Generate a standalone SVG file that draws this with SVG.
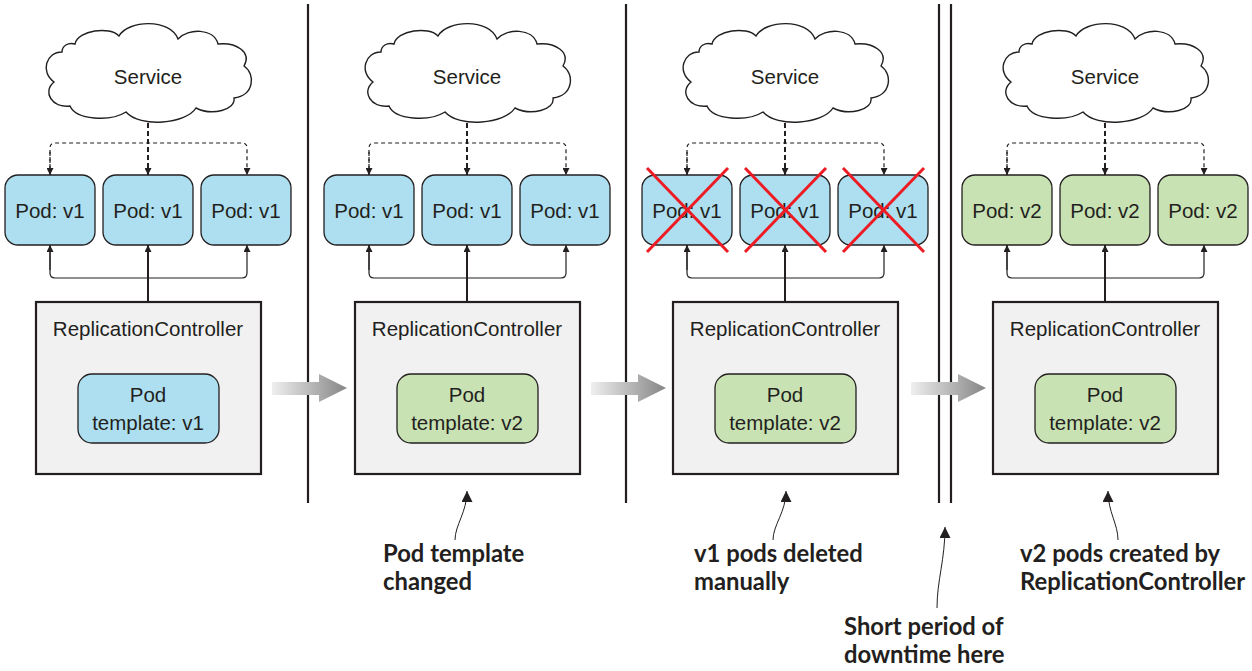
<svg xmlns="http://www.w3.org/2000/svg" width="1252" height="671" viewBox="0 0 1252 671">
<defs>
<style>
.lbl{font-family:"Liberation Sans",Arial,sans-serif;font-size:20.5px;fill:#231f20;text-anchor:middle}
.note{font-family:Lato,"Liberation Sans",sans-serif;font-weight:700;font-size:23.8px;fill:#231f20}
.cloud{fill:#fff;stroke:#231f20;stroke-width:1.4}
.pod1{fill:#aedff0;stroke:#231f20;stroke-width:1.3}
.pod2{fill:#c9e2b3;stroke:#231f20;stroke-width:1.3}
.rc{fill:#f1f1f1;stroke:#231f20;stroke-width:2.2}
.dash{fill:none;stroke:#231f20;stroke-width:1.2;stroke-dasharray:4 3}
.dashc{fill:none;stroke:#231f20;stroke-width:2;stroke-dasharray:5 3}
.sol{fill:none;stroke:#231f20;stroke-width:1.2}
.solc{fill:none;stroke:#231f20;stroke-width:2}
.div{stroke:#231f20;stroke-width:2.2}
.xr{stroke:#ed1c24;stroke-width:3;stroke-linecap:butt}
.ann{fill:none;stroke:#231f20;stroke-width:1}
.big{fill:url(#g)}
</style>
<linearGradient id="g" x1="0" y1="0" x2="1" y2="0">
<stop offset="0" stop-color="#efefef"/>
<stop offset="1" stop-color="#858585"/>
</linearGradient>
<marker id="ah" viewBox="0 0 10 10" refX="10" refY="5" markerWidth="8" markerHeight="7" markerUnits="userSpaceOnUse" orient="auto">
<path d="M0,0 L10,5 L0,10 Z" fill="#231f20"/>
</marker>
<marker id="ahb" viewBox="0 0 10 10" refX="10" refY="5" markerWidth="11" markerHeight="11" markerUnits="userSpaceOnUse" orient="auto">
<path d="M0,0 L10,5 L0,10 Z" fill="#231f20"/>
</marker>
<path id="cloudp" d="M75,44 C78,30 110,26 119,36 C128,20 170,18 178,39 C188,28 214,28 218,44 C236,42 252,52 244,66 C256,74 254,96 234,98 C236,110 212,116 196,108 C186,124 140,128 126,112 C110,122 76,120 70,106 C52,108 42,92 54,82 C40,72 46,52 62,52 C62,46 68,42 75,44 Z"/>
</defs>
<rect width="1252" height="671" fill="#fff"/>

<g id="dividers">
<line class="div" x1="308" y1="4" x2="308" y2="503"/>
<line class="div" x1="626" y1="4" x2="626" y2="503"/>
<line class="div" x1="939" y1="4" x2="939" y2="503"/>
<line class="div" x1="951" y1="4" x2="951" y2="503"/>
</g>

<g id="connectors">
<g>
<path class="dash" d="M50,175 V148 Q50,143 55,143 H242 Q247,143 247,148 V175" marker-end="url(#ah)"/>
<path class="dash" d="M50,152 V175" marker-end="url(#ah)"/>
<path class="dashc" d="M148,123 V175" marker-end="url(#ah)"/>
<path class="solc" d="M148,302 V245" marker-end="url(#ah)"/>
<path class="sol" d="M50,245 V273 Q50,278 55,278 H242 Q247,278 247,273 V245" marker-end="url(#ah)"/>
<path class="sol" d="M50,270 V245" marker-end="url(#ah)"/>
</g>
<g transform="translate(319,0)">
<path class="dash" d="M50,175 V148 Q50,143 55,143 H242 Q247,143 247,148 V175" marker-end="url(#ah)"/>
<path class="dash" d="M50,152 V175" marker-end="url(#ah)"/>
<path class="dashc" d="M148,123 V175" marker-end="url(#ah)"/>
<path class="solc" d="M148,302 V245" marker-end="url(#ah)"/>
<path class="sol" d="M50,245 V273 Q50,278 55,278 H242 Q247,278 247,273 V245" marker-end="url(#ah)"/>
<path class="sol" d="M50,270 V245" marker-end="url(#ah)"/>
</g>
<g transform="translate(637,0)">
<path class="dash" d="M50,175 V148 Q50,143 55,143 H242 Q247,143 247,148 V175" marker-end="url(#ah)"/>
<path class="dash" d="M50,152 V175" marker-end="url(#ah)"/>
<path class="dashc" d="M148,123 V175" marker-end="url(#ah)"/>
<path class="solc" d="M148,302 V245" marker-end="url(#ah)"/>
<path class="sol" d="M50,245 V273 Q50,278 55,278 H242 Q247,278 247,273 V245" marker-end="url(#ah)"/>
<path class="sol" d="M50,270 V245" marker-end="url(#ah)"/>
</g>
<g transform="translate(957,0)">
<path class="dash" d="M50,175 V148 Q50,143 55,143 H242 Q247,143 247,148 V175" marker-end="url(#ah)"/>
<path class="dash" d="M50,152 V175" marker-end="url(#ah)"/>
<path class="dashc" d="M148,123 V175" marker-end="url(#ah)"/>
<path class="solc" d="M148,302 V245" marker-end="url(#ah)"/>
<path class="sol" d="M50,245 V273 Q50,278 55,278 H242 Q247,278 247,273 V245" marker-end="url(#ah)"/>
<path class="sol" d="M50,270 V245" marker-end="url(#ah)"/>
</g>
<path class="big" d="M272,382 H319 V374 L347,388 L319,402 V395 H272 Z"/>
<path class="big" d="M591,382 H638 V374 L666,388 L638,402 V395 H591 Z"/>
<path class="big" d="M911,382 H958 V374 L986,388 L958,402 V395 H911 Z"/>
<path class="ann" d="M455,540 C455,525 467,512 467,491" marker-end="url(#ahb)"/>
<path class="ann" d="M773,540 C773,525 786,512 786,491" marker-end="url(#ahb)"/>
<path class="ann" d="M1118,540 C1118,524 1108,512 1108,491" marker-end="url(#ahb)"/>
<path class="ann" d="M937,608 C937,580 945,560 945,527" marker-end="url(#ahb)"/>
</g>

<g id="panel1">
<g id="service1"><use href="#cloudp" class="cloud"/><text class="lbl" x="148" y="84">Service</text></g>
<g id="pod1a"><rect class="pod1" x="5" y="175" width="90" height="70" rx="13"/><text class="lbl" x="50" y="218">Pod: v1</text></g>
<g id="pod1b"><rect class="pod1" x="103" y="175" width="90" height="70" rx="13"/><text class="lbl" x="148" y="218">Pod: v1</text></g>
<g id="pod1c"><rect class="pod1" x="201" y="175" width="90" height="70" rx="13"/><text class="lbl" x="246" y="218">Pod: v1</text></g>
<g id="rc1"><rect class="rc" x="36" y="302" width="225" height="172"/><text class="lbl" x="148" y="336">ReplicationController</text>
<rect class="pod1" x="78" y="374" width="141" height="69" rx="14"/><text class="lbl" x="148" y="402">Pod</text><text class="lbl" x="148" y="430">template: v1</text></g>
</g>

<g id="panel2" transform="translate(319,0)">
<g id="service2"><use href="#cloudp" class="cloud"/><text class="lbl" x="148" y="84">Service</text></g>
<g id="pod2a"><rect class="pod1" x="5" y="175" width="90" height="70" rx="13"/><text class="lbl" x="50" y="218">Pod: v1</text></g>
<g id="pod2b"><rect class="pod1" x="103" y="175" width="90" height="70" rx="13"/><text class="lbl" x="148" y="218">Pod: v1</text></g>
<g id="pod2c"><rect class="pod1" x="201" y="175" width="90" height="70" rx="13"/><text class="lbl" x="246" y="218">Pod: v1</text></g>
<g id="rc2"><rect class="rc" x="36" y="302" width="225" height="172"/><text class="lbl" x="148" y="336">ReplicationController</text>
<rect class="pod2" x="78" y="374" width="141" height="69" rx="14"/><text class="lbl" x="148" y="402">Pod</text><text class="lbl" x="148" y="430">template: v2</text></g>
</g>

<g id="panel3" transform="translate(637,0)">
<g id="service3"><use href="#cloudp" class="cloud"/><text class="lbl" x="148" y="84">Service</text></g>
<g id="pod3a"><rect class="pod1" x="5" y="175" width="90" height="70" rx="13"/><text class="lbl" x="50" y="218">Pod: v1</text>
<line class="xr" x1="10" y1="168" x2="91" y2="252"/><line class="xr" x1="91" y1="168" x2="10" y2="252"/></g>
<g id="pod3b"><rect class="pod1" x="103" y="175" width="90" height="70" rx="13"/><text class="lbl" x="148" y="218">Pod: v1</text>
<line class="xr" x1="108" y1="168" x2="189" y2="252"/><line class="xr" x1="189" y1="168" x2="108" y2="252"/></g>
<g id="pod3c"><rect class="pod1" x="201" y="175" width="90" height="70" rx="13"/><text class="lbl" x="246" y="218">Pod: v1</text>
<line class="xr" x1="206" y1="168" x2="287" y2="252"/><line class="xr" x1="287" y1="168" x2="206" y2="252"/></g>
<g id="rc3"><rect class="rc" x="36" y="302" width="225" height="172"/><text class="lbl" x="148" y="336">ReplicationController</text>
<rect class="pod2" x="78" y="374" width="141" height="69" rx="14"/><text class="lbl" x="148" y="402">Pod</text><text class="lbl" x="148" y="430">template: v2</text></g>
</g>

<g id="panel4" transform="translate(957,0)">
<g id="service4"><use href="#cloudp" class="cloud"/><text class="lbl" x="148" y="84">Service</text></g>
<g id="pod4a"><rect class="pod2" x="5" y="175" width="90" height="70" rx="13"/><text class="lbl" x="50" y="218">Pod: v2</text></g>
<g id="pod4b"><rect class="pod2" x="103" y="175" width="90" height="70" rx="13"/><text class="lbl" x="148" y="218">Pod: v2</text></g>
<g id="pod4c"><rect class="pod2" x="201" y="175" width="90" height="70" rx="13"/><text class="lbl" x="246" y="218">Pod: v2</text></g>
<g id="rc4"><rect class="rc" x="36" y="302" width="225" height="172"/><text class="lbl" x="148" y="336">ReplicationController</text>
<rect class="pod2" x="78" y="374" width="141" height="69" rx="14"/><text class="lbl" x="148" y="402">Pod</text><text class="lbl" x="148" y="430">template: v2</text></g>
</g>

<g id="notes">
<g id="note-template"><text class="note" x="383" y="562">Pod template</text><text class="note" x="383" y="590">changed</text></g>
<g id="note-deleted"><text class="note" x="694" y="562">v1 pods deleted</text><text class="note" x="694" y="590">manually</text></g>
<g id="note-downtime"><text class="note" x="844" y="635">Short period of</text><text class="note" x="844" y="663">downtime here</text></g>
<g id="note-created"><text class="note" x="1020" y="562">v2 pods created by</text><text class="note" x="1020" y="590">ReplicationController</text></g>
</g>
</svg>
